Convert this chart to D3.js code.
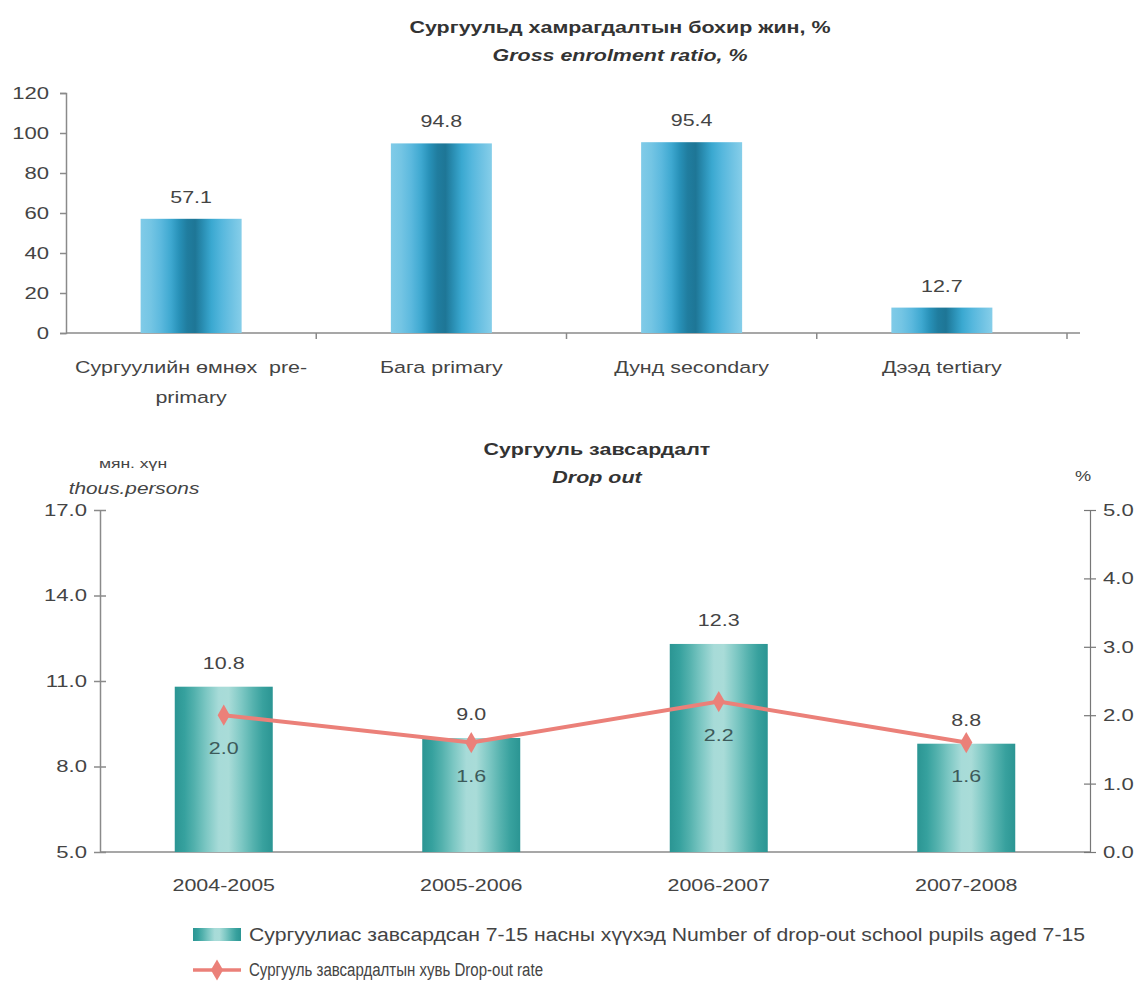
<!DOCTYPE html>
<html><head><meta charset="utf-8">
<script src="https://cdn.jsdelivr.net/npm/d3@7"></script>
<style>body{margin:0;background:#fff}svg{display:block}text{font-family:"Liberation Sans",Arial,sans-serif}</style>
</head><body>
<svg id="c" width="1140" height="983"></svg>
<script>
// ---- data ----
const enrolCategories = [["Сургуулийн өмнөх  pre-","primary"],["Бага primary"],["Дунд secondary"],["Дээд tertiary"]];
const enrolValues = [57.1, 94.8, 95.4, 12.7];
const enrolTicks = [0,20,40,60,80,100,120];

const years = ["2004-2005","2005-2006","2006-2007","2007-2008"];
const dropoutPupils = [10.8, 9.0, 12.3, 8.8];
const dropoutRate = [2.0, 1.6, 2.2, 1.6];
const leftTicks = [5.0, 8.0, 11.0, 14.0, 17.0];
const rightTicks = [0,1,2,3,4,5];

const SX = 1.3; // horizontal stretch of the reference's type
const svg = d3.select("#c");
const txt = "#444";
const axisCol = "#8a8a8a";

// gradients
const defs = svg.append("defs");
function grad(id, stops){
  const g = defs.append("linearGradient").attr("id",id).attr("x1","0%").attr("x2","100%").attr("y1","0%").attr("y2","0%");
  stops.forEach(s=>g.append("stop").attr("offset",s[0]).attr("stop-color",s[1]));
}
grad("gBlue",[["0%","#80cbe8"],["10%","#74c5e4"],["20%","#5cb9de"],["30%","#3ea8d0"],["38%","#2891b8"],["46%","#207d9f"],["54%","#1e7696"],["62%","#2a8fb4"],["70%","#3aa8d0"],["80%","#55b7dd"],["90%","#6ec2e3"],["100%","#86cee9"]]);
grad("gTeal",[["0%","#2b9593"],["10%","#36a19e"],["20%","#53b1ad"],["32%","#7cc7c3"],["45%","#a7dbd8"],["55%","#a9dcd8"],["68%","#7ec8c4"],["80%","#55b2ae"],["90%","#38a19e"],["100%","#2b9593"]]);

// ===== Top chart =====
svg.append("text").attr("x",620).attr("y",33).attr("text-anchor","middle").attr("font-size",16.5).attr("font-weight","bold").attr("fill","#333").text("Сургуульд хамрагдалтын бохир жин, %");
svg.append("text").attr("x",620).attr("y",61).attr("text-anchor","middle").attr("font-size",16.5).attr("font-weight","bold").attr("font-style","italic").attr("fill","#333").text("Gross enrolment ratio, %");

const band1 = d3.scaleBand().domain(d3.range(enrolValues.length)).range([66,1067]);
const y1 = d3.scaleLinear().domain([0,120]).range([333,93]);

const ax1 = svg.append("g").attr("transform","translate(66,0)").call(d3.axisLeft(y1).tickValues(enrolTicks).tickSize(6).tickPadding(11).tickFormat(d3.format("d")));
ax1.select(".domain").attr("stroke",axisCol).attr("stroke-width",1.5);
ax1.selectAll(".tick line").attr("stroke",axisCol).attr("stroke-width",1.5);
ax1.selectAll("text").attr("font-size",17).attr("fill",txt);

svg.append("line").attr("x1",66).attr("x2",1080).attr("y1",333).attr("y2",333).attr("stroke",axisCol).attr("stroke-width",1.5);
d3.range(1,enrolValues.length+1).forEach(i=>{
  const xx = band1(0)+band1.step()*i;
  svg.append("line").attr("x1",xx).attr("x2",xx).attr("y1",333).attr("y2",339).attr("stroke",axisCol).attr("stroke-width",1.5);
});

svg.selectAll(".b1").data(enrolValues).join("rect").attr("class","b1")
  .attr("x",(d,i)=>band1(i)+band1.bandwidth()/2-50.5).attr("width",101)
  .attr("y",d=>y1(d)).attr("height",d=>y1(0)-y1(d)).attr("fill","url(#gBlue)");
svg.selectAll(".l1").data(enrolValues).join("text").attr("class","l1")
  .attr("x",(d,i)=>band1(i)+band1.bandwidth()/2).attr("y",d=>y1(d)-16)
  .attr("text-anchor","middle").attr("font-size",16.5).attr("fill",txt).text(d=>d.toFixed(1));
enrolCategories.forEach((lines,i)=>{
  const cx = band1(i)+band1.bandwidth()/2;
  const t = svg.append("text").attr("x",cx).attr("y",373).attr("text-anchor","middle").attr("font-size",16.5).attr("fill",txt);
  lines.forEach((s,k)=>t.append("tspan").attr("x",cx).attr("dy",k?30:0).attr("xml:space","preserve").text(s));
});

// ===== Bottom chart =====
svg.append("text").attr("x",597).attr("y",455).attr("text-anchor","middle").attr("font-size",16.5).attr("font-weight","bold").attr("fill","#333").text("Сургууль завсардалт");
svg.append("text").attr("x",597).attr("y",483).attr("text-anchor","middle").attr("font-size",16.5).attr("font-weight","bold").attr("font-style","italic").attr("fill","#333").text("Drop out");
svg.append("text").attr("x",133).attr("y",468).attr("text-anchor","middle").attr("font-size",13.5).attr("fill",txt).text("мян. хүн");
svg.append("text").attr("x",134).attr("y",494).attr("text-anchor","middle").attr("font-size",16).attr("font-style","italic").attr("fill",txt).text("thous.persons");
svg.append("text").attr("x",1083).attr("y",481).attr("text-anchor","middle").attr("font-size",14).attr("fill",txt).text("%");

const x2 = d3.scaleBand().domain(years).range([100,1090]);
const yL = d3.scaleLinear().domain([5,17]).range([852,510]);
const yR = d3.scaleLinear().domain([0,5]).range([852,510]);

svg.append("line").attr("x1",100).attr("x2",1090).attr("y1",852).attr("y2",852).attr("stroke",axisCol).attr("stroke-width",1.5);

svg.selectAll(".b2").data(dropoutPupils).join("rect").attr("class","b2")
  .attr("x",(d,i)=>x2(years[i])+x2.bandwidth()/2-49).attr("width",98)
  .attr("y",d=>yL(d)).attr("height",d=>yL(5)-yL(d)).attr("fill","url(#gTeal)");
svg.selectAll(".l2").data(dropoutPupils).join("text").attr("class","l2")
  .attr("x",(d,i)=>x2(years[i])+x2.bandwidth()/2).attr("y",d=>yL(d)-18)
  .attr("text-anchor","middle").attr("font-size",16.5).attr("fill",txt).text(d=>d.toFixed(1));

const axL = svg.append("g").attr("transform","translate(100,0)").call(d3.axisLeft(yL).tickValues(leftTicks).tickSize(0).tickPadding(13).tickFormat(d3.format(".1f")));
axL.select(".domain").attr("stroke",axisCol).attr("stroke-width",1.5);
axL.selectAll("text").attr("font-size",17).attr("fill",txt);
axL.selectAll(".tick").append("line").attr("x1",-6).attr("x2",6).attr("stroke",axisCol).attr("stroke-width",1.5);

const axR = svg.append("g").attr("transform","translate(1090,0)").call(d3.axisRight(yR).tickValues(rightTicks).tickSize(0).tickPadding(13).tickFormat(d3.format(".1f")));
axR.select(".domain").attr("stroke","#777").attr("stroke-width",1.2);
axR.selectAll("text").attr("font-size",17).attr("fill",txt);
axR.selectAll(".tick").append("line").attr("x1",-6).attr("x2",6).attr("stroke","#777").attr("stroke-width",1.2);

svg.selectAll(".xl2").data(years).join("text").attr("class","xl2")
  .attr("x",d=>x2(d)+x2.bandwidth()/2).attr("y",891).attr("text-anchor","middle").attr("font-size",16.5).attr("fill",txt).text(d=>d);

const lineCol = "#eb8079";
const line = d3.line().x((d,i)=>x2(years[i])+x2.bandwidth()/2).y(d=>yR(d));
svg.append("path").datum(dropoutRate).attr("d",line).attr("fill","none").attr("stroke",lineCol).attr("stroke-width",4);
const diamond = d3.symbol().type(d3.symbolDiamond).size(130);
svg.selectAll(".pt").data(dropoutRate).join("path").attr("class","pt")
  .attr("transform",(d,i)=>`translate(${x2(years[i])+x2.bandwidth()/2},${yR(d)})`).attr("d",diamond).attr("fill",lineCol);
svg.selectAll(".pl").data(dropoutRate).join("text").attr("class","pl")
  .attr("x",(d,i)=>x2(years[i])+x2.bandwidth()/2).attr("y",d=>yR(d)+39)
  .attr("text-anchor","middle").attr("font-size",16.5).attr("fill","#3d5a5a").text(d=>d.toFixed(1));

// stretch all text horizontally about its anchor (before legend)
svg.selectAll("text").each(function(){
  const x = +this.getAttribute("x")||0, y = +this.getAttribute("y")||0;
  this.setAttribute("transform",`translate(${x},${y}) scale(${SX},1) translate(${-x},${-y})`);
});

// legend
svg.append("rect").attr("x",193).attr("y",928).attr("width",48).attr("height",13).attr("fill","url(#gTeal)");
svg.append("text").attr("x",249).attr("y",941).attr("font-size",18).attr("fill",txt).attr("textLength",836).attr("lengthAdjust","spacingAndGlyphs").text("Сургуулиас завсардсан 7-15 насны хүүхэд Number of drop-out school pupils aged 7-15");
svg.append("line").attr("x1",193).attr("x2",241).attr("y1",970).attr("y2",970).attr("stroke",lineCol).attr("stroke-width",3.5);
svg.append("path").attr("transform","translate(217,970)").attr("d",diamond).attr("fill",lineCol);
svg.append("text").attr("x",249).attr("y",976).attr("font-size",18).attr("fill",txt).attr("textLength",294).attr("lengthAdjust","spacingAndGlyphs").text("Сургууль завсардалтын хувь  Drop-out rate");
</script>
</body></html>
